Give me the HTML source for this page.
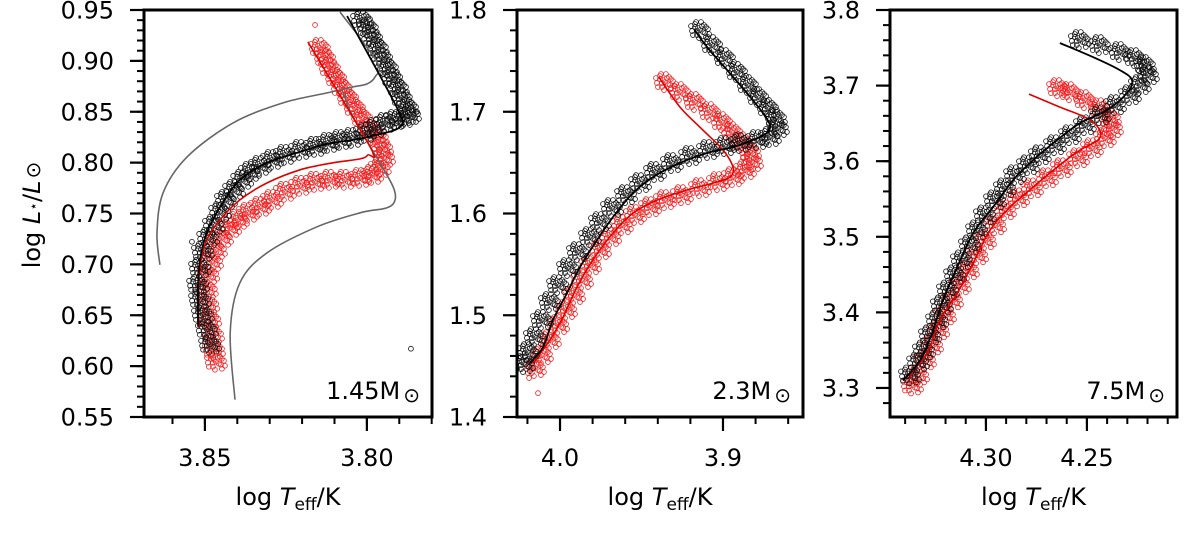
<!DOCTYPE html>
<html><head><meta charset="utf-8"><style>
html,body{margin:0;padding:0;background:#fff;}
svg{display:block;font-family:"DejaVu Sans","Liberation Sans",sans-serif;}
</style></head><body>
<svg id="chart" width="1200" height="540" viewBox="0 0 1200 540" xmlns="http://www.w3.org/2000/svg"></svg>
<script>
// ---- Panel 1 (1.45 Msun) ----
const p1BlackLineT=[3.8061,3.7904,3.7898,3.7969,3.8043,3.8123,3.8206,3.8308,3.8392,3.8453,3.8494,3.8515,3.8521,3.8521];
const p1BlackLineL=[0.9441,0.8518,0.8351,0.8273,0.8223,0.8184,0.8106,0.7998,0.7831,0.7565,0.7310,0.7045,0.6780,0.6387];
const p1RedLineT=[3.8182,3.7990,3.7997,3.8021,3.8105,3.8206,3.8308,3.8392,3.8453,3.8494,3.8515,3.8521,3.8518];
const p1RedLineL=[0.9186,0.8155,0.8076,0.8037,0.7998,0.7929,0.7801,0.7634,0.7438,0.7241,0.6976,0.6652,0.6377];
const p1Gray1T=[3.8639,3.8648,3.8629,3.8555,3.8413,3.8259,3.8123,3.8043,3.8000,3.7975,3.7969,3.8083];
const p1Gray1L=[0.6996,0.7310,0.7703,0.8056,0.8390,0.8587,0.8685,0.8744,0.8773,0.8842,0.8989,0.9480];
const p1Gray2T=[3.8407,3.8422,3.8392,3.8308,3.8154,3.8021,3.7938,3.7913,3.7919,3.7960,3.8043,3.8074];
const p1Gray2L=[0.5670,0.6328,0.6819,0.7114,0.7369,0.7507,0.7556,0.7634,0.7762,0.7998,0.8449,0.8695];
const p1BlackPtsT=[3.8015,3.7997,3.7984,3.7966,3.7953,3.7935,3.7922,3.7904,3.7892,3.7873,3.7867,3.7886,3.7913,3.7944,3.7975,3.8006,3.8046,3.8083,3.8120,3.8160,3.8206,3.8253,3.8293,3.8330,3.8361,3.8385,3.8410,3.8435,3.8453,3.8472,3.8490,3.8506,3.8515,3.8521,3.8515,3.8506,3.8494,3.8484];
const p1BlackPtsL=[0.9402,0.9323,0.9225,0.9127,0.9029,0.8930,0.8832,0.8734,0.8636,0.8538,0.8469,0.8439,0.8420,0.8390,0.8341,0.8292,0.8243,0.8223,0.8194,0.8155,0.8125,0.8076,0.8027,0.7968,0.7909,0.7831,0.7732,0.7634,0.7516,0.7389,0.7261,0.7124,0.6966,0.6800,0.6652,0.6505,0.6358,0.6210];
const p1BlackOutT=[3.8540,3.7864];
const p1BlackOutL=[0.7222,0.6171];
const p1RedPtsT=[3.8145,3.8129,3.8114,3.8095,3.8077,3.8058,3.8037,3.8015,3.7990,3.7966,3.7953,3.7947,3.7960,3.7984,3.8021,3.8068,3.8114,3.8160,3.8206,3.8253,3.8293,3.8330,3.8367,3.8398,3.8422,3.8447,3.8466,3.8478,3.8490,3.8494,3.8490,3.8484,3.8475,3.8472,3.8466];
const p1RedPtsL=[0.9127,0.9029,0.8930,0.8832,0.8734,0.8636,0.8538,0.8439,0.8341,0.8243,0.8145,0.8047,0.7948,0.7880,0.7850,0.7831,0.7831,0.7811,0.7772,0.7713,0.7634,0.7566,0.7507,0.7438,0.7359,0.7261,0.7143,0.7025,0.6898,0.6750,0.6603,0.6456,0.6309,0.6161,0.6043];
const p1RedOutT=[3.8160];
const p1RedOutL=[0.9353];
const p1XTicks=[3.85,3.80];
const p1XTickLabels=["3.85","3.80"];
const p1YTicks=[0.55,0.60,0.65,0.70,0.75,0.80,0.85,0.90,0.95];
const p1YTickLabels=["0.55","0.60","0.65","0.70","0.75","0.80","0.85","0.90","0.95"];

// ---- Panel 2 (2.3 Msun) ----
const p2BlackLineT=[3.9178,3.9098,3.8975,3.8853,3.8755,3.8712,3.8730,3.8816,3.8939,3.9098,3.9264,3.9430,3.9552,3.9675,3.9773,3.9877,3.9957,4.0043,4.0104,4.0184];
const p2BlackLineL=[1.7813,1.7636,1.7410,1.7184,1.6988,1.6870,1.6791,1.6722,1.6653,1.6594,1.6496,1.6358,1.6201,1.5965,1.5739,1.5474,1.5218,1.4953,1.4687,1.4530];
const p2RedLineT=[3.9393,3.9264,3.9123,3.9000,3.8939,3.8957,3.9061,3.9221,3.9405,3.9552,3.9675,3.9798,3.9896,3.9982,4.0062,4.0166];
const p2RedLineL=[1.7341,1.7046,1.6820,1.6624,1.6457,1.6358,1.6299,1.6231,1.6132,1.6004,1.5808,1.5543,1.5277,1.4982,1.4756,1.4530];
const p2BlackPtsT=[3.9141,3.9067,3.8988,3.8914,3.8847,3.8785,3.8724,3.8675,3.8663,3.8712,3.8791,3.8896,3.8988,3.9092,3.9202,3.9313,3.9417,3.9509,3.9595,3.9681,3.9755,3.9816,3.9890,3.9951,4.0012,4.0062,4.0111,4.0154,4.0197,4.0221];
const p2BlackPtsL=[1.7803,1.7656,1.7528,1.7391,1.7263,1.7145,1.7037,1.6938,1.6840,1.6752,1.6722,1.6693,1.6663,1.6624,1.6565,1.6496,1.6408,1.6299,1.6181,1.6054,1.5916,1.5769,1.5621,1.5464,1.5297,1.5130,1.4953,1.4786,1.4638,1.4520];
const p2RedPtsT=[3.9356,3.9264,3.9172,3.9080,3.9006,3.8945,3.8883,3.8834,3.8822,3.8865,3.8939,3.9031,3.9141,3.9252,3.9356,3.9448,3.9540,3.9620,3.9693,3.9755,3.9816,3.9865,3.9914,3.9963,4.0012,4.0062,4.0111,4.0154];
const p2RedPtsL=[1.7292,1.7194,1.7096,1.6997,1.6899,1.6801,1.6702,1.6604,1.6506,1.6427,1.6358,1.6309,1.6250,1.6181,1.6132,1.6063,1.5985,1.5886,1.5769,1.5641,1.5493,1.5346,1.5199,1.5051,1.4904,1.4756,1.4609,1.4481];
const p2RedOutT=[4.0135,4.0190];
const p2RedOutL=[1.4235,1.4383];
const p2XTicks=[4.0,3.9];
const p2XTickLabels=["4.0","3.9"];
const p2YTicks=[1.4,1.5,1.6,1.7,1.8];
const p2YTickLabels=["1.4","1.5","1.6","1.7","1.8"];

// ---- Panel 3 (7.5 Msun) ----
const p3BlackLineT=[4.2634,4.2470,4.2337,4.2277,4.2302,4.2401,4.2535,4.2648,4.2767,4.2866,4.2965,4.3064,4.3143,4.3213,4.3267,4.3326,4.3411];
const p3BlackLineL=[3.7563,3.7377,3.7205,3.7073,3.6901,3.6676,3.6503,3.6278,3.6013,3.5748,3.5391,3.5046,3.4596,3.4159,3.3722,3.3364,3.3099];
const p3RedLineT=[4.2787,4.2634,4.2500,4.2436,4.2446,4.2535,4.2648,4.2767,4.2881,4.2980,4.3064,4.3143,4.3228,4.3292,4.3361,4.3376];
const p3RedLineL=[3.6887,3.6715,3.6570,3.6411,3.6278,3.6146,3.5921,3.5656,3.5391,3.5086,3.4649,3.4252,3.3894,3.3457,3.3232,3.3126];
const p3BlackPtsT=[4.2535,4.2436,4.2337,4.2262,4.2213,4.2198,4.2238,4.2287,4.2361,4.2436,4.2510,4.2584,4.2658,4.2733,4.2792,4.2856,4.2906,4.2955,4.3005,4.3044,4.3079,4.3119,4.3153,4.3188,4.3218,4.3242,4.3277,4.3307,4.3336,4.3376];
const p3BlackPtsL=[3.7603,3.7536,3.7444,3.7364,3.7272,3.7139,3.7007,3.6874,3.6742,3.6609,3.6477,3.6344,3.6212,3.6079,3.5947,3.5815,3.5642,3.5483,3.5285,3.5086,3.4887,3.4689,3.4490,3.4291,3.4093,3.3894,3.3696,3.3497,3.3338,3.3166];
const p3RedPtsT=[4.2643,4.2584,4.2510,4.2436,4.2386,4.2376,4.2411,4.2475,4.2544,4.2624,4.2698,4.2772,4.2841,4.2906,4.2955,4.3005,4.3044,4.3089,4.3129,4.3168,4.3203,4.3237,4.3267,4.3302,4.3336,4.3366];
const p3RedPtsL=[3.6967,3.6914,3.6808,3.6702,3.6570,3.6437,3.6305,3.6172,3.6040,3.5907,3.5775,3.5642,3.5510,3.5351,3.5152,3.4954,3.4755,3.4556,3.4358,3.4159,3.3960,3.3762,3.3563,3.3364,3.3166,3.3033];
const p3XTicks=[4.30,4.25];
const p3XTickLabels=["4.30","4.25"];
const p3YTicks=[3.3,3.4,3.5,3.6,3.7,3.8];
const p3YTickLabels=["3.3","3.4","3.5","3.6","3.7","3.8"];

const NS="http://www.w3.org/2000/svg";
const svg=document.getElementById('chart');
function mk(tag,attrs,parent){const e=document.createElementNS(NS,tag);for(const k in attrs)e.setAttribute(k,attrs[k]);(parent||svg).appendChild(e);return e;}

const panels=[
 {key:'p1',x0:144,x1:432,tL:3.8688,tR:3.7799,lB:0.55,lT:0.95,xMinor:0.01,yMinor:0.01,xt:p1XTicks,xl:p1XTickLabels,yt:p1YTicks,yl:p1YTickLabels,label:'1.45M',
  lines:[[p1Gray1T,p1Gray1L,'#666',1.6],[p1Gray2T,p1Gray2L,'#666',1.6],[p1RedLineT,p1RedLineL,'#e00000',1.6],[p1BlackLineT,p1BlackLineL,'#000',1.8]],
  pts:[[p1RedPtsT,p1RedPtsL,'#f02020'],[p1BlackPtsT,p1BlackPtsL,'#111']],
  outs:[[p1RedOutT,p1RedOutL,'#f02020'],[p1BlackOutT,p1BlackOutL,'#111']]},
 {key:'p2',x0:517,x1:803,tL:4.0264,tR:3.8509,lB:1.4,lT:1.8,xMinor:0.02,yMinor:0.02,xt:p2XTicks,xl:p2XTickLabels,yt:p2YTicks,yl:p2YTickLabels,label:'2.3M',
  lines:[[p2RedLineT,p2RedLineL,'#e00000',1.6],[p2BlackLineT,p2BlackLineL,'#000',1.8]],
  pts:[[p2RedPtsT,p2RedPtsL,'#f02020'],[p2BlackPtsT,p2BlackPtsL,'#111']],
  outs:[[p2RedOutT,p2RedOutL,'#f02020']]},
 {key:'p3',x0:890,x1:1177,tL:4.3475,tR:4.2054,lB:3.2616,lT:3.8,xMinor:0.01,yMinor:0.02,xt:p3XTicks,xl:p3XTickLabels,yt:p3YTicks,yl:p3YTickLabels,label:'7.5M',
  lines:[[p3RedLineT,p3RedLineL,'#e00000',1.6],[p3BlackLineT,p3BlackLineL,'#000',1.8]],
  pts:[[p3RedPtsT,p3RedPtsL,'#f02020'],[p3BlackPtsT,p3BlackPtsL,'#111']],
  outs:[]}
];
const Y0=10,Y1=417;
// marker cluster pattern (marker style, not data)
const cluster=[[0,0],[-5,-3],[5,3],[-3,5],[4,-5],[-8,1],[8,-1],[1,-8],[-1,8],[-4,-8],[6,7],[-7,5],[3,2],[-2,-2],[9,4],[-9,-4],[2,-4],[-3,1],[6,-3],[-5,-6]];

panels.forEach(p=>{
  const g=mk('g',{});
  
  
  const X=t=>p.x0+(p.tL-t)/(p.tL-p.tR)*(p.x1-p.x0);
  const Y=l=>Y1-(l-p.lB)/(p.lT-p.lB)*(Y1-Y0);
  const clip=mk('clipPath',{id:'clip-'+p.key},g);
  mk('rect',{x:p.x0,y:Y0,width:p.x1-p.x0,height:Y1-Y0},clip);
  const plot=mk('g',{'clip-path':'url(#clip-'+p.key+')'},g);
  p.pts.forEach((s,si)=>{
    const sg=mk('g',{fill:'none',stroke:s[2],'stroke-width':0.8},plot);
    
    
    s[0].forEach((t,i)=>{const cx=X(t),cy=Y(s[1][i]);
      cluster.forEach(o=>{mk('circle',{cx:cx+o[0],cy:cy+o[1],r:2.4},sg);});
    });
  });
  p.outs.forEach(s=>{
    s[0].forEach((t,i)=>{const c=mk('circle',{cx:X(t),cy:Y(s[1][i]),r:2.4,fill:'none',stroke:s[2],'stroke-width':0.8},plot);
      
      });
  });
  p.lines.forEach((ln,li)=>{
    const pts=ln[0].map((t,i)=>[X(t),Y(ln[1][i])]);
    let d='M'+pts[0][0].toFixed(1)+','+pts[0][1].toFixed(1);
    for(let i=0;i<pts.length-1;i++){
      const p0=pts[Math.max(0,i-1)],p1=pts[i],p2=pts[i+1],p3=pts[Math.min(pts.length-1,i+2)];
      const c1=[p1[0]+(p2[0]-p0[0])/6,p1[1]+(p2[1]-p0[1])/6],c2=[p2[0]-(p3[0]-p1[0])/6,p2[1]-(p3[1]-p1[1])/6];
      d+=' C'+c1[0].toFixed(1)+','+c1[1].toFixed(1)+' '+c2[0].toFixed(1)+','+c2[1].toFixed(1)+' '+p2[0].toFixed(1)+','+p2[1].toFixed(1);
    }
    const path=mk('path',{d:d,fill:'none',stroke:ln[2],'stroke-width':ln[3]},plot);
    
    
  });
  const fr=mk('rect',{x:p.x0,y:Y0,width:p.x1-p.x0,height:Y1-Y0,fill:'none',stroke:'#000','stroke-width':3},g);
  
  
  const ymin=Math.ceil(p.lB/p.yMinor-1e-6),ymax=Math.floor(p.lT/p.yMinor+1e-6);
  for(let k=ymin;k<=ymax;k++){const y=Y(k*p.yMinor);mk('line',{x1:p.x0-7,x2:p.x0,y1:y,y2:y,stroke:'#000','stroke-width':2},g);}
  p.yt.forEach((v,i)=>{const y=Y(v);
    mk('line',{x1:p.x0-14,x2:p.x0,y1:y,y2:y,stroke:'#000','stroke-width':2.2},g);
    const t=mk('text',{x:p.x0-30,y:y+8.5,'text-anchor':'end','font-size':24,fill:'#000'},g);
    t.textContent=p.yl[i];
    
    });
  const lo=Math.min(p.tL,p.tR),hi=Math.max(p.tL,p.tR);
  for(let k=Math.ceil(lo/p.xMinor-1e-6);k<=Math.floor(hi/p.xMinor+1e-6);k++){const x=X(k*p.xMinor);mk('line',{x1:x,x2:x,y1:Y1,y2:Y1+7,stroke:'#000','stroke-width':2},g);}
  p.xt.forEach((v,i)=>{const x=X(v);
    mk('line',{x1:x,x2:x,y1:Y1,y2:Y1+14,stroke:'#000','stroke-width':2.2},g);
    const t=mk('text',{x:x,y:466,'text-anchor':'middle','font-size':24,fill:'#000'},g);
    t.textContent=p.xl[i];
    
    });
  const xt=mk('text',{x:(p.x0+p.x1)/2,y:505,'text-anchor':'middle','font-size':24,fill:'#000'},g);
  
  
  xt.innerHTML='log <tspan font-style="italic">T</tspan><tspan font-size="17" dy="5">eff</tspan><tspan dy="-5">/K</tspan>';
  const ml=mk('text',{x:p.x1-12,y:399,'text-anchor':'end','font-size':24,fill:'#000'},g);
  
  
  ml.innerHTML=p.label+'<tspan font-size="20" dx="3" dy="3">⊙</tspan>';
});
const yt=mk('text',{x:0,y:0,'text-anchor':'middle','font-size':24,fill:'#000',transform:'translate(40,215) rotate(-90)'});


yt.innerHTML='log <tspan font-style="italic">L</tspan><tspan font-size="14" dy="-2">⋆</tspan><tspan dy="2">/</tspan><tspan font-style="italic">L</tspan><tspan font-size="20" dx="2">⊙</tspan>';
</script>
</body></html>
